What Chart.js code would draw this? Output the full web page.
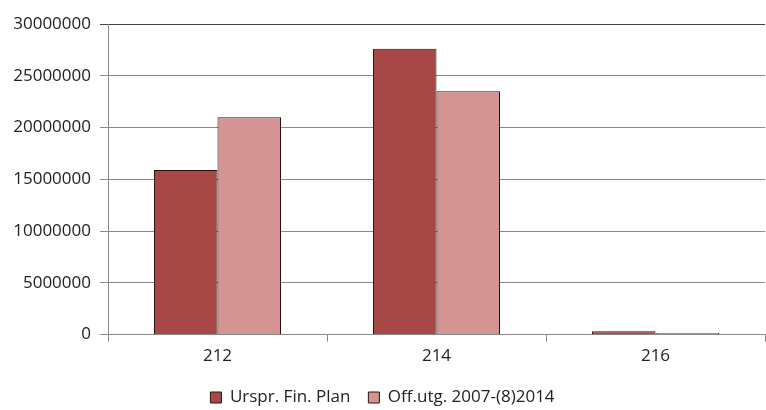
<!DOCTYPE html>
<html lang="sv">
<head>
    <meta charset="UTF-8">
    <title>Chart</title>
    <script src="https://cdn.jsdelivr.net/npm/chart.js@4.4.0/dist/chart.umd.min.js"></script>
    <style>
        html, body { margin: 0; padding: 0; background: #fff; }
        #wrap { width: 766px; height: 410px; }
    </style>
</head>
<body>
<div id="wrap"><canvas id="myChart" width="766" height="410"></canvas></div>
<script>
    // data
    var categories = ['212', '214', '216'];
    var urspr = [15900000, 27600000, 320000];
    var offutg = [21000000, 23500000, 150000];
    var seriesNames = ['Urspr. Fin. Plan', 'Off.utg. 2007-(8)2014'];

    var ctx = document.getElementById('myChart').getContext('2d');
    var chart = new Chart(ctx, {
        type: 'bar',
        data: {
            labels: categories,
            datasets: [{
                label: seriesNames[0],
                data: urspr,
                backgroundColor: '#A84846',
                borderColor: '#2b1212',
                borderWidth: 1,
                categoryPercentage: 0.58,
                barPercentage: 1
            }, {
                label: seriesNames[1],
                data: offutg,
                backgroundColor: '#D39493',
                borderColor: '#2b1212',
                borderWidth: 1,
                categoryPercentage: 0.58,
                barPercentage: 1
            }]
        },
        options: {
            responsive: false,
            animation: false,
            layout: { padding: { top: 24, right: 1, left: 0, bottom: -6 } },
            plugins: {
                legend: {
                    position: 'bottom',
                    labels: {
                        boxWidth: 11,
                        boxHeight: 11,
                        padding: 18,
                        color: '#222',
                        font: { family: 'Open Sans', size: 17 }
                    }
                },
                tooltip: { enabled: false }
            },
            scales: {
                x: {
                    afterFit: function(scale) { scale.height += 1; },
                    grid: {
                        offset: true,
                        drawOnChartArea: false,
                        color: '#888',
                        tickLength: 7
                    },
                    border: { color: '#888' },
                    ticks: {
                        color: '#222',
                        padding: 4,
                        font: { family: 'Open Sans', size: 17 }
                    }
                },
                y: {
                    min: 0,
                    max: 30000000,
                    afterFit: function(scale) { scale.width = 108; },
                    grid: {
                        color: function(c) { return c.tick && c.tick.value === 30000000 ? '#444' : '#888'; },
                        tickLength: 8
                    },
                    border: { color: '#888' },
                    ticks: {
                        stepSize: 5000000,
                        color: '#222',
                        padding: 9,
                        font: { family: 'Open Sans', size: 17 },
                        callback: function(v) { return String(v); }
                    }
                }
            }
        }
    });
</script>
</body>
</html>
